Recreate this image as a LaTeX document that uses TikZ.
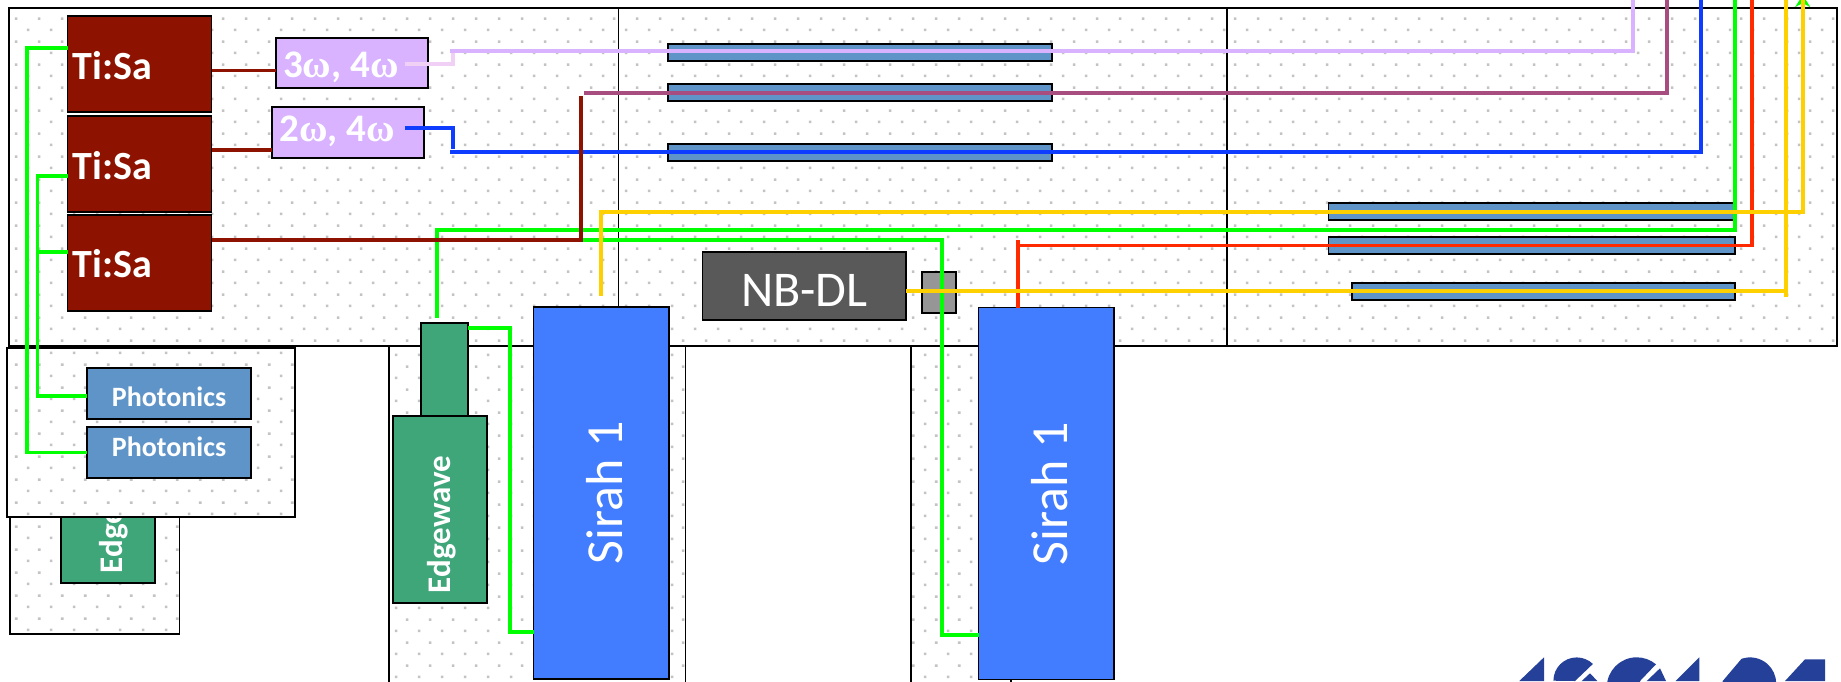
\documentclass[tikz,border=0pt]{standalone}
\usepackage{fontspec}
\setmainfont{Carlito}
\newfontfamily\OmegaFont{Liberation Serif}
\usetikzlibrary{arrows.meta,patterns}
\definecolor{TisaFill}{RGB}{142,18,0}
\definecolor{HarmFill}{RGB}{217,179,255}
\definecolor{PhotFill}{RGB}{95,148,200}
\definecolor{EdgeFill}{RGB}{63,166,122}
\definecolor{SirahFill}{RGB}{67,125,255}
\definecolor{DyeFill}{RGB}{89,89,89}
\definecolor{ShutFill}{RGB}{150,150,150}
\definecolor{DotDraw}{RGB}{195,195,195}
\definecolor{LogoFill}{RGB}{36,64,152}
\definecolor{GreenBeam}{RGB}{0,255,0}
\definecolor{LilacBeam}{RGB}{217,179,255}
\definecolor{PaleBeam}{RGB}{240,208,245}
\definecolor{PlumBeam}{RGB}{168,77,127}
\definecolor{BlueBeam}{RGB}{15,61,255}
\definecolor{RedBeam}{RGB}{255,42,0}
\definecolor{GoldBeam}{RGB}{255,208,0}
\newcommand{\Om}{{\OmegaFont\bfseries\char"03C9}}
\pgfdeclarepatternformonly{roomDots}{\pgfqpoint{0pt}{0pt}}{\pgfqpoint{23pt}{23.2pt}}{\pgfqpoint{23pt}{23.2pt}}{
  \pgfpathrectangle{\pgfqpoint{4pt}{4pt}}{\pgfqpoint{2.7pt}{2.7pt}}
  \pgfpathrectangle{\pgfqpoint{15.5pt}{15.6pt}}{\pgfqpoint{2.7pt}{2.7pt}}
  \pgfusepath{fill}
}
\tikzset{
  every node/.style={align=center, inner sep=0pt, outer sep=0pt},
  %% base block
  blk/.style={draw=black, line width=1.7pt, text=white},
  room/.style={
    draw=black, line width=1.7pt,
    preaction={fill=white},
    pattern=roomDots, pattern color=DotDraw,
  },
  tisaBlk/.style={
    blk, fill=TisaFill,
    minimum width=144pt, minimum height=96pt,
    text width=134pt, align=left,
    text height=30pt, text depth=0pt,
    font=\fontsize{40}{42}\selectfont\bfseries,
  },
  harmBlk/.style={
    blk, fill=HarmFill,
    minimum width=152pt, minimum height=50.5pt,
    text depth=0pt,
    font=\fontsize{39}{41}\selectfont\bfseries,
  },
  photBlk/.style={
    blk, fill=PhotFill,
    minimum width=164pt, minimum height=51pt,
    text depth=0pt,
    font=\fontsize{28}{30}\selectfont\bfseries,
  },
  edgeBlk/.style={blk, fill=EdgeFill},
  edgeTxt/.style={
    rotate=90, anchor=west, text=white,
    font=\fontsize{33}{35}\selectfont\bfseries,
  },
  sirahBlk/.style={
    blk, fill=SirahFill,
    minimum width=135.5pt, minimum height=372pt,
    font=\fontsize{52}{54}\selectfont,
  },
  barBlk/.style={
    blk, fill=PhotFill,
    minimum height=17pt,
  },
  %% beams
  beam/.style={line width=3.6pt},
  grn/.style={beam, GreenBeam},
  lil/.style={beam, LilacBeam},
  pal/.style={beam, PaleBeam},
  plm/.style={beam, PlumBeam},
  blu/.style={beam, BlueBeam},
  rdb/.style={beam, RedBeam},
  gld/.style={beam, GoldBeam},
  drk/.style={beam, TisaFill},
}

\begin{document}
\begin{tikzpicture}[x=1pt,y=-1pt]
\useasboundingbox (0,0) rectangle (1841,681);

%%═══════════════════════════════ ROOMS ═══════════════════════════════════════
\node[room, minimum width=169.5pt, minimum height=234pt] (LOW) at (94.75,517) {};
\node[room, minimum width=296.5pt, minimum height=345pt] (ROOMA) at (537.25,518.5) {};
\node[room, minimum width=100pt, minimum height=345pt] (ROOMB) at (961,518.5) {};
\node[room, minimum width=1828.5pt, minimum height=338pt] (MAIN) at (922.95,177) {};
\coordinate (DivAt) at (618.5,8.3);
\coordinate (DivBt) at (1227,8.3);
\draw[line width=1.7pt] (DivAt) -- (DivAt |- MAIN.south);
\draw[line width=1.7pt] (DivBt) -- (DivBt |- MAIN.south);

%% ── Hidden Edgewave, then the photonics room over it ───────────────────────
\node[edgeBlk, minimum width=93.7pt, minimum height=187pt] (EWA) at (107.85,489.5) {};
\node[edgeTxt] (EWALbl) at ([xshift=5.5pt,yshift=9.7pt]EWA.south) {Edgewave};
\node[room, minimum width=287.7pt, minimum height=169pt] (PHROOM) at (151.15,432.5) {};

%%═══════════════════════════════ BEAM ENDS ═══════════════════════════════════
\coordinate (TopA) at (1632.7,0);
\coordinate (TopB) at (1666.7,0);
\coordinate (TopC) at (1700.7,0);
\coordinate (TopD) at (1734.7,0);
\coordinate (TopE) at (1751.7,0);
\coordinate (TopF) at (1785.7,0);
\coordinate (TopG) at (1802.7,0);

%%═══════════════════════════════ BARS ════════════════════════════════════════
\node[barBlk, minimum width=384pt] (BarA) at (860,52.5) {};
\node[barBlk, minimum width=384pt] (BarB) at (860,92.5) {};
\node[barBlk, minimum width=384pt] (BarC) at (860,152.2) {};
\node[barBlk, minimum width=406.1pt] (BarD) at (1531.65,211.2) {};
\node[barBlk, minimum width=406.1pt] (BarE) at (1531.65,245.2) {};
\node[barBlk, minimum width=382.7pt] (BarF) at (1543.35,291.5) {};

%%═══════════════════════════════ SOURCES ═════════════════════════════════════
\node[tisaBlk] (TIA) at (139.5,64) {Ti:Sa};
\node[tisaBlk] (TIB) at (139.5,164) {Ti:Sa};
\node[tisaBlk, text height=28.6pt] (TIC) at (139.5,263) {Ti:Sa};
\node[harmBlk, text height=29pt] (HARA) at (351.8,62.9) {3\Om, 4\Om\hspace*{22pt}};
\node[harmBlk, text height=18pt] (HARB) at (347.8,132.4) {\hspace*{1pt}2\Om, 4\Om\hspace*{22pt}};
\node[photBlk, text height=27pt] (PHA) at (169,393.2) {Photonics};
\node[photBlk, text height=8.4pt] (PHB) at (169,452.5) {Photonics};

\node[edgeBlk, minimum width=47pt, minimum height=93.3pt] (EWBtop) at (444.5,369.3) {};
\node[edgeBlk, minimum width=93.7pt, minimum height=186.7pt] (EWB) at (439.85,509.35) {};
\node[edgeTxt] (EWBLbl) at ([xshift=2pt,yshift=9.7pt]EWB.south) {Edgewave};

\node[sirahBlk] (SIRA) at (601.25,493) {\hspace*{7pt}\rotatebox{90}{Sirah 1}};
\node[sirahBlk] (SIRB) at (1046.25,493.5) {\hspace*{7pt}\rotatebox{90}{Sirah 1}};

\node[blk, fill=DyeFill, minimum width=203.4pt, minimum height=68pt,
      text height=40pt, text depth=0pt,
      font=\fontsize{50}{52}\selectfont] (NBDL) at (804.3,286) {NB-DL};
\node[blk, fill=ShutFill, minimum width=34pt, minimum height=41.3pt] (SHUT) at (939,292.3) {};

%%═══════════════════════════════ BEAM PATHS ══════════════════════════════════
%% ── Ti:Sa pumps ─────────────────────────────────────────────────────────────
\draw[drk] (TIA.east |- 0,70.3) -- (HARA.west |- 0,70.3);
\draw[drk] (TIB.east |- 0,150) -- (HARB.west |- 0,150);
\coordinate (PlumStart) at (584,93);
\draw[plm] (PlumStart) -| (TopB);

%% ── Harmonic outputs ───────────────────────────────────────────────────────
\coordinate (PaleOut) at (405,64);
\coordinate (PaleEnd) at (453,49);
\draw[pal] (PaleOut) -| (PaleEnd);
\coordinate (LilStart) at (450,50.7);
\draw[lil] (LilStart) -| (TopA);
\coordinate (BluOut) at (405,128);
\coordinate (BluEnd) at (453,149);
\draw[blu] (BluOut) -| (BluEnd);
\coordinate (BluStart) at (450,152);
\draw[blu] (BluStart) -| (TopC);

%% ── Pump lasers ────────────────────────────────────────────────────────────
\coordinate (GrnA) at (27,48);
\draw[grn] (TIA.west |- GrnA) -- (GrnA) |- (PHB.west);
\coordinate (GrnB) at (37.6,175.7);
\draw[grn] (TIB.west |- GrnB) -- (GrnB) |- (PHA.west |- 0,396);
\draw[grn] (TIC.west |- 0,251.7) -- (GrnB |- 0,251.7);
\coordinate (GrnUp) at (437,317.7);
\draw[grn] (GrnUp) |- (TopD |- 0,230) -- (TopD);
\coordinate (GrnLow) at (510,328);
\draw[grn] (EWBtop.east |- GrnLow) -- (GrnLow) |- (SIRA.west |- 0,632);
\coordinate (GrnMid) at (581,240);
\coordinate (GrnDrop) at (942,240);
\draw[grn] (GrnMid) -- (GrnDrop) |- (SIRB.west |- 0,635);
\coordinate (GrnTipStart) at (1802.7,30);
\coordinate (GrnTip) at (1802.7,-5);
\draw[grn, -{Stealth[length=12pt,width=15pt]}] (GrnTipStart) -- (GrnTip);

\coordinate (PlumKnee) at (581,96);
\draw[drk] (TIC.east |- 0,239.7) -| (PlumKnee);

%% ── Dye outputs ────────────────────────────────────────────────────────────
\coordinate (RedCorner) at (1018,245.3);
\draw[rdb] (SIRB.north -| RedCorner) -- (1018,240) coordinate (RedEnd);
\draw[rdb] (RedCorner) -| (TopE);
\coordinate (GldA) at (601,295.7);
\draw[gld] (GldA) |- (TopG |- 0,211.7) -- (TopG);
\draw[gld] (NBDL.east |- 0,291) -- (TopF |- 0,291);
\coordinate (GldEnd) at (1785.7,297);
\draw[gld] (GldEnd) -- (TopF);

%%═══════════════════════════════ LOGO ════════════════════════════════════════
\begin{scope}
  \clip (1480,620) rectangle (1841,681);
  \fill[LogoFill] (1519.3,681) -- (1544,657.3) -- (1544,681) -- cycle;
  \fill[LogoFill] (1553.4,680.7) arc[start angle=180, end angle=314, radius=23.3]
    -- (1575,681) -- cycle;
  \fill[LogoFill] (1581.7,681) -- (1590,673.3) -- (1597.3,681) -- cycle;
  \fill[LogoFill] (1606.8,687.2) arc[start angle=180, end angle=310, radius=29.9]
    -- (1640,681) -- (1640,690) -- cycle;
  \fill[LogoFill] (1646.7,681) -- (1660,668.3) -- (1666,681) -- cycle;
  \fill[LogoFill] (1675.7,681) -- (1699.3,657.3) -- (1699.3,681) -- cycle;
  \fill[LogoFill] (1722.7,681) -- (1741.5,658.8) arc[start angle=251, end angle=360, radius=26.2]
    -- (1776,690) -- (1722.7,690) -- cycle;
  \fill[LogoFill] (1785,681) -- (1805,659.3) -- (1825,659.3) -- (1825,681) -- cycle;
\end{scope}

\end{tikzpicture}
\end{document}
